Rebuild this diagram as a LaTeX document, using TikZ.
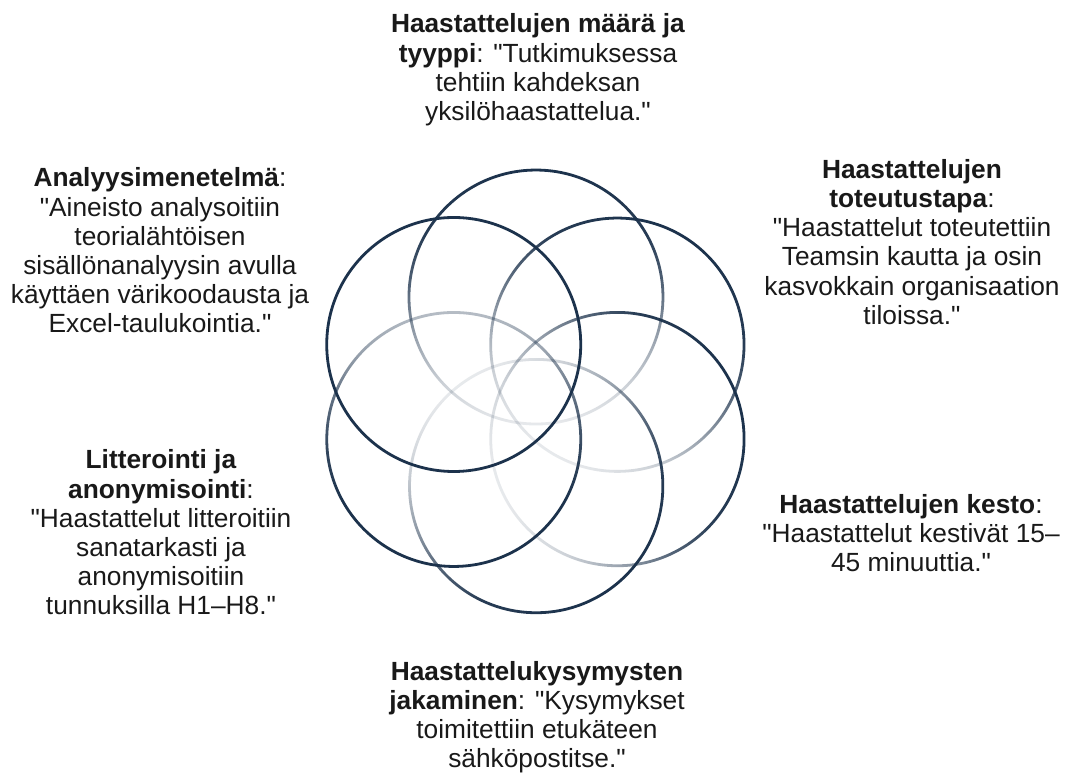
\documentclass[tikz,border=0pt]{standalone}
\usepackage{fontspec}
\setmainfont{Liberation Sans}[Ligatures=TeXOff]
\usetikzlibrary{fadings,calc}
\definecolor{ringnavy}{RGB}{28,50,76}
\definecolor{txt}{RGB}{25,25,25}
\pgfdeclareverticalshading{ringshade}{100bp}{color(0bp)=(pgftransparent!90); color(25bp)=(pgftransparent!90); color(33bp)=(pgftransparent!78); color(42bp)=(pgftransparent!55); color(52bp)=(pgftransparent!25); color(62bp)=(pgftransparent!5); color(75bp)=(pgftransparent!0); color(100bp)=(pgftransparent!0)}
\pgfdeclareverticalshading{ringshadesoft}{100bp}{color(0bp)=(pgftransparent!68); color(25bp)=(pgftransparent!68); color(33bp)=(pgftransparent!55); color(42bp)=(pgftransparent!30); color(52bp)=(pgftransparent!10); color(62bp)=(pgftransparent!0); color(100bp)=(pgftransparent!0)}
\pgfdeclarefading{ringfade}{\pgfuseshading{ringshade}}
\pgfdeclarefading{ringfadesoft}{\pgfuseshading{ringshadesoft}}
\tikzset{
  ring/.style={draw=ringnavy, line width=2.8pt},
  fadedring/.style={ring, path fading=ringfade, fading angle=#1},
  softring/.style={ring, path fading=ringfadesoft, fading angle=#1},
  label/.style={align=center, text=txt, font=\fontsize{26.3}{29.2}\selectfont, inner sep=0pt}
}
\begin{document}
\begin{tikzpicture}[x=1pt,y=1pt]
\useasboundingbox (0,0) rectangle (1067,774);
\fill[white] (0,0) rectangle (1067,774);
\coordinate (C) at (536,382);
% circles
\draw[fadedring=0]    ($(C)+(90:95)$)  circle[radius=127];
\draw[fadedring=-30]  ($(C)+(30:95)$)  circle[radius=127];
\draw[fadedring=-70]  ($(C)+(-30:95)$) circle[radius=127];
\draw[fadedring=-145] ($(C)+(-90:95)$) circle[radius=127];
\draw[softring=180]   ($(C)+(-150:95)$) circle[radius=127];
\draw[ring]           ($(C)+(150:95)$) circle[radius=127];
% texts
\node[label] (top) at (538,704) {\textbf{Haastattelujen määrä ja}\\\textbf{tyyppi}: "Tutkimuksessa\\tehtiin kahdeksan\\yksilöhaastattelua."};
\node[label] (left) at (160,523.5) {\textbf{Analyysimenetelmä}:\\"Aineisto analysoitiin\\teorialähtöisen\\sisällönanalyysin avulla\\käyttäen värikoodausta ja\\Excel-taulukointia."};
\node[label] (righttop) at (912,532) {\textbf{Haastattelujen}\\\textbf{toteutustapa}:\\"Haastattelut toteutettiin\\Teamsin kautta ja osin\\kasvokkain organisaation\\tiloissa."};
\node[label] (leftlow) at (161,241.5) {\textbf{Litterointi ja}\\\textbf{anonymisointi}:\\"Haastattelut litteroitiin\\sanatarkasti ja\\anonymisoitiin\\tunnuksilla H1–H8."};
\node[label] (rightlow) at (911,241) {\textbf{Haastattelujen kesto}:\\"Haastattelut kestivät 15–\\45 minuuttia."};
\node[label] (bottom) at (537,57) {\textbf{Haastattelukysymysten}\\\textbf{jakaminen}: "Kysymykset\\toimitettiin etukäteen\\sähköpostitse."};
\end{tikzpicture}
\end{document}
